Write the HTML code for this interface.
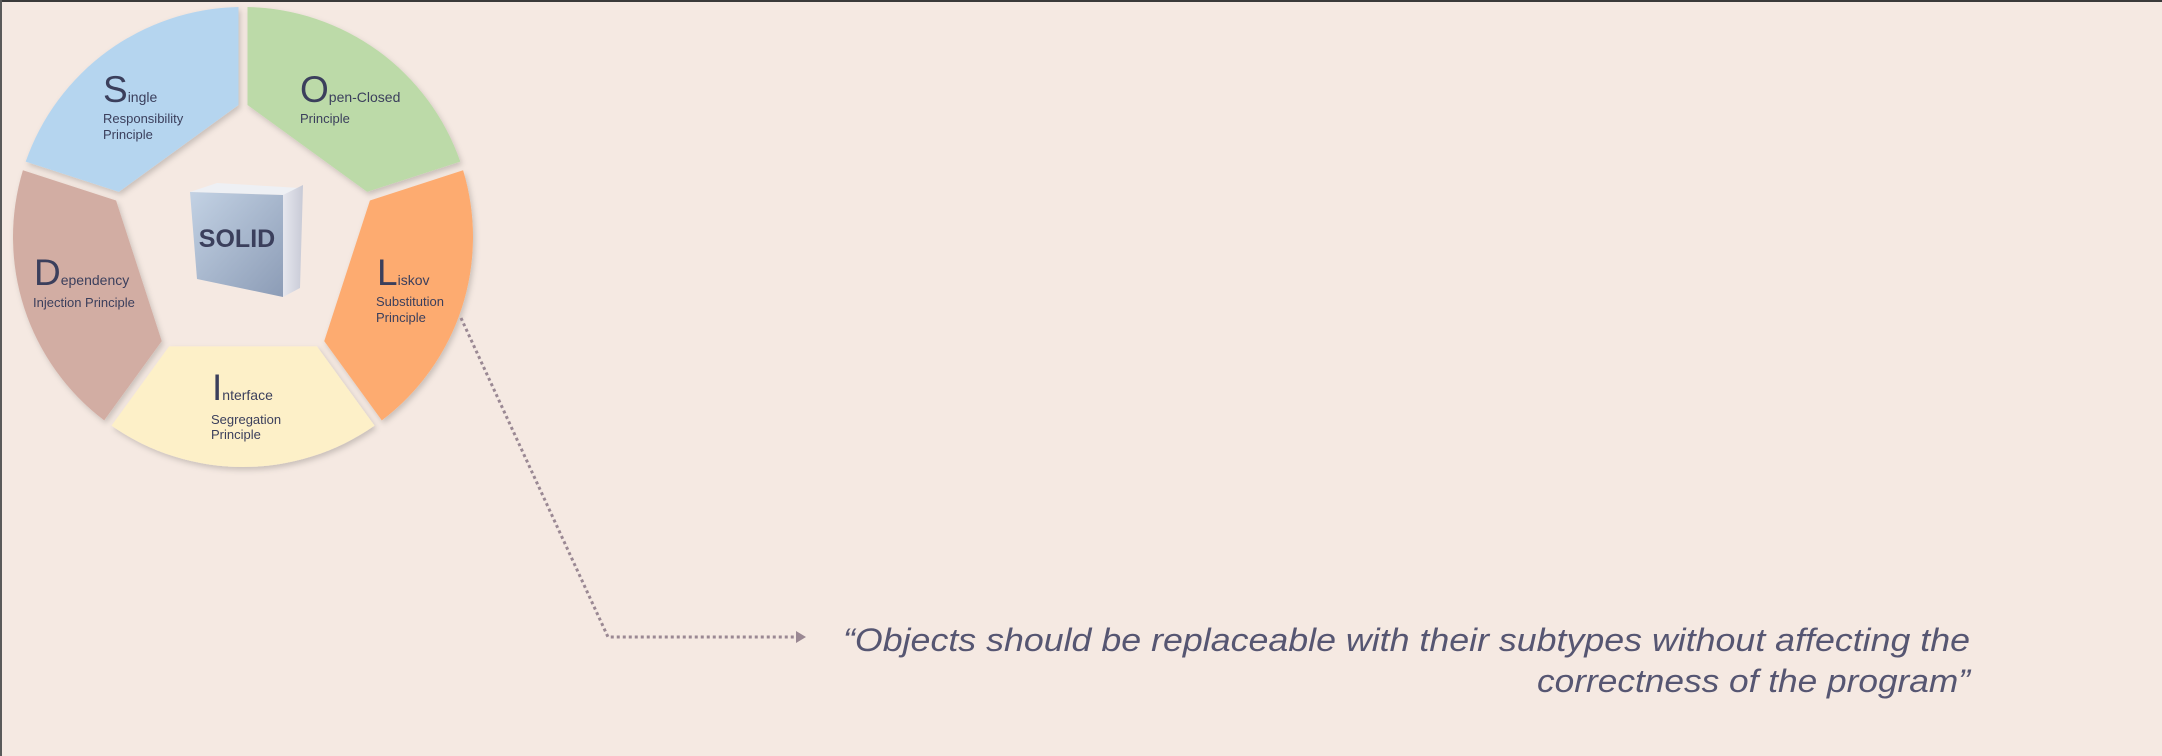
<!DOCTYPE html>
<html><head><meta charset="utf-8"><style>
html,body{margin:0;padding:0;background:#f5e9e2;}
svg{display:block;}
text{font-family:"Liberation Sans",sans-serif;fill:#3b3f5c;}
</style></head><body>
<svg width="2162" height="756" viewBox="0 0 2162 756">
<defs>
<filter id="sh" x="-20%" y="-20%" width="140%" height="140%"><feDropShadow dx="2" dy="3" stdDeviation="3" flood-color="#000" flood-opacity="0.18"/></filter>
<linearGradient id="cubeF" x1="0" y1="0" x2="1" y2="1"><stop offset="0" stop-color="#c3d2e4"/><stop offset="1" stop-color="#8c9cb6"/></linearGradient>
<linearGradient id="cubeS" x1="0" y1="0" x2="1" y2="0"><stop offset="0" stop-color="#e6e7ee"/><stop offset="1" stop-color="#c8cad6"/></linearGradient>
</defs>
<rect x="0" y="0" width="2162" height="756" fill="#f5e9e2"/>
<rect x="0" y="0" width="2162" height="2" fill="#3a3a3a"/>
<rect x="0" y="0" width="2" height="756" fill="#5a5a5a"/>
<g id="wheel"></g>
<g>
<polygon points="190,192 285,195 305,186 300,188 217,183" fill="#eef0f4"/>
<polygon points="283,195 303,185 300,288 283,297" fill="url(#cubeS)"/>
<polygon points="190,192 283,195 283,297 197,279" fill="url(#cubeF)"/>
<text x="237" y="247" font-size="25" font-weight="bold" text-anchor="middle" fill="#2f3650">SOLID</text>
</g>
<g>
<text x="103" y="102"><tspan font-size="37">S</tspan><tspan font-size="14">ingle</tspan></text>
<text x="103" y="123" font-size="13">Responsibility</text>
<text x="103" y="139" font-size="13">Principle</text></g>
<g>
<text x="300" y="102"><tspan font-size="37">O</tspan><tspan font-size="14">pen-Closed</tspan></text>
<text x="300" y="123" font-size="13">Principle</text></g>
<g>
<text x="377" y="285"><tspan font-size="37">L</tspan><tspan font-size="14">iskov</tspan></text>
<text x="376" y="306" font-size="13">Substitution</text>
<text x="376" y="322" font-size="13">Principle</text></g>
<g>
<text x="212" y="400"><tspan font-size="37">I</tspan><tspan font-size="14">nterface</tspan></text>
<text x="211" y="424" font-size="13">Segregation</text>
<text x="211" y="439" font-size="13">Principle</text></g>
<g>
<text x="34" y="285"><tspan font-size="37">D</tspan><tspan font-size="14">ependency</tspan></text>
<text x="33" y="307" font-size="13">Injection Principle</text></g>
<polyline points="461,318 608,637 798,637" fill="none" stroke="#9a8893" stroke-width="3" stroke-dasharray="3,3"/>
<polygon points="796,631 806,637 796,643" fill="#9a8893"/>
<g font-style="italic">
<text x="843" y="651" font-size="32" textLength="1127" lengthAdjust="spacingAndGlyphs" style="fill:#565672">“Objects should be replaceable with their subtypes without affecting the</text>
<text x="1537" y="692" font-size="32" textLength="433" lengthAdjust="spacingAndGlyphs" style="fill:#565672">correctness of the program”</text>
</g>
</svg>
<script>
const segNames=['single','open-closed','liskov','interface','dependency'];
const segColors=['#b5d5ef','#bcdaa8','#fdab70','#fdf0c8','#d2ada3'];
const cx=243,cy=237,R=230,r=132,gap=4.5;
const g=document.getElementById('wheel');
const ns='http://www.w3.org/2000/svg';
function pt(a,rad,off){const t=a*Math.PI/180;return [cx+rad*Math.cos(t)-off*Math.sin(t),cy+rad*Math.sin(t)+off*Math.cos(t)];}
for(let i=0;i<5;i++){
 const a1=-90-72+72*i, a2=a1+72;
 const i1=pt(a1,r,gap), o1=pt(a1,R,gap), o2=pt(a2,R,-gap), i2=pt(a2,r,-gap);
 // adjust outer points to lie on circle
 const fix=p=>{const dx=p[0]-cx,dy=p[1]-cy,l=Math.hypot(dx,dy);return [cx+dx*R/l,cy+dy*R/l];};
 const O1=fix(o1),O2=fix(o2);
 const p=document.createElementNS(ns,'path');
 p.setAttribute('d',`M${i1[0]},${i1[1]} L${O1[0]},${O1[1]} A${R},${R} 0 0 1 ${O2[0]},${O2[1]} L${i2[0]},${i2[1]} Z`);
 p.setAttribute('fill',segColors[i]);
 p.setAttribute('filter','url(#sh)');
 
 
 g.appendChild(p);
}
</script>
</body></html>
